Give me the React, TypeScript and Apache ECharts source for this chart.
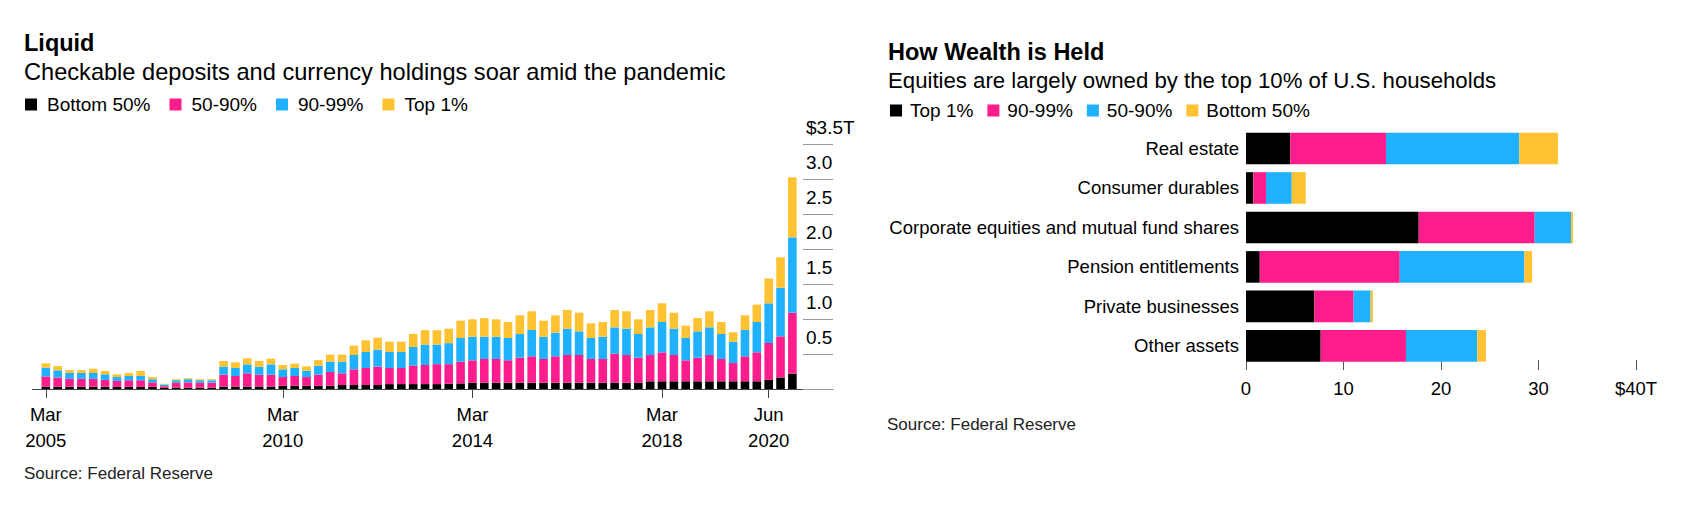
import React, { useEffect, useRef } from "react";
import * as echarts from "echarts";

const FONT = "'Liberation Sans', Arial, Helvetica, sans-serif";
const BLACK = "#000000";
const PINK = "#fe1d8c";
const BLUE = "#1fb1fd";
const YELLOW = "#fec232";

// ---------- Left chart: Liquid ----------
const years = [2005, 2006, 2007, 2008, 2009, 2010, 2011, 2012, 2013, 2014, 2015, 2016, 2017, 2018, 2019, 2020];
const quarterNames = ["Q1", "Q2", "Q3", "Q4"];
const quarters: string[] = [];
years.forEach((y) => quarterNames.forEach((q) => quarters.push(`${y}-${q}`)));

const tickQuarters = ["2005-Q1", "2010-Q1", "2014-Q1", "2018-Q1", "2020-Q2"];
const tickLabels = ["Mar\n2005", "Mar\n2010", "Mar\n2014", "Mar\n2018", "Jun\n2020"];
const yTickLabels = ["", "0.5", "1.0", "1.5", "2.0", "2.5", "3.0", "$3.5T"];

const liqBottom50 = [
  0.033, 0.033, 0.033, 0.033, 0.033, 0.033, 0.03, 0.03, 0.03, 0.03,
  0.015, 0.02, 0.02, 0.02, 0.02,
  0.035, 0.035, 0.035, 0.035, 0.035,
  0.045, 0.045, 0.045, 0.045, 0.045,
  0.057, 0.057, 0.057, 0.057,
  0.07, 0.07, 0.07, 0.07, 0.07, 0.075, 0.08,
  0.09, 0.09, 0.09, 0.09, 0.09, 0.09, 0.09, 0.09, 0.09, 0.09, 0.09, 0.09, 0.09, 0.09, 0.09,
  0.11, 0.11, 0.11, 0.11, 0.11, 0.11, 0.11, 0.11, 0.11, 0.11,
  0.13, 0.165, 0.22,
];
const liq50to90 = [
  0.147, 0.132, 0.112, 0.112, 0.112, 0.097, 0.085, 0.095, 0.095, 0.065,
  0.025, 0.07, 0.075, 0.07, 0.07,
  0.17, 0.151, 0.189, 0.17, 0.17,
  0.126, 0.141, 0.126, 0.16, 0.198,
  0.167, 0.224, 0.243, 0.262,
  0.23, 0.23, 0.265, 0.273, 0.285, 0.28, 0.31,
  0.32, 0.339, 0.339, 0.32, 0.358, 0.377, 0.339, 0.377, 0.396, 0.396, 0.339, 0.339, 0.415, 0.396, 0.358,
  0.376, 0.414, 0.376, 0.3, 0.338, 0.376, 0.319, 0.261, 0.357, 0.414,
  0.527, 0.587, 0.87,
];
const liq90to99 = [
  0.125, 0.102, 0.084, 0.084, 0.084, 0.08, 0.056, 0.061, 0.061, 0.045,
  0.025, 0.035, 0.045, 0.035, 0.035,
  0.114, 0.114, 0.128, 0.114, 0.147,
  0.11, 0.114, 0.091, 0.128, 0.147,
  0.166, 0.205, 0.229, 0.243,
  0.229, 0.229, 0.265, 0.292, 0.28, 0.3, 0.339,
  0.338, 0.319, 0.319, 0.319, 0.338, 0.376, 0.319, 0.338, 0.376, 0.338, 0.3, 0.319, 0.376, 0.376, 0.338,
  0.395, 0.433, 0.376, 0.319, 0.376, 0.395, 0.357, 0.305, 0.376, 0.433,
  0.567, 0.694, 1.077,
];
const liqTop1 = [
  0.062, 0.062, 0.042, 0.042, 0.061, 0.047, 0.039, 0.043, 0.071, 0.031,
  0.01, 0.015, 0.015, 0.015, 0.015,
  0.081, 0.081, 0.086, 0.081, 0.081,
  0.062, 0.062, 0.062, 0.081, 0.1,
  0.1, 0.133, 0.166, 0.171,
  0.147, 0.147, 0.188, 0.205, 0.205, 0.207, 0.247,
  0.247, 0.264, 0.247, 0.228, 0.266, 0.267, 0.228, 0.247, 0.267, 0.266, 0.209, 0.209, 0.248, 0.248, 0.209,
  0.248, 0.267, 0.228, 0.176, 0.19, 0.229, 0.171, 0.134, 0.209, 0.248,
  0.355, 0.435, 0.857,
];
const liqSeriesNames = ["Bottom 50%", "50-90%", "90-99%", "Top 1%"];

// ---------- Right chart: How Wealth is Held ----------
const assetCategories = [
  "Real estate",
  "Consumer durables",
  "Corporate equities and mutual fund shares",
  "Pension entitlements",
  "Private businesses",
  "Other assets",
];
const wTop1 = [4.54, 0.75, 17.71, 1.41, 7.0, 7.66];
const w90to99 = [9.82, 1.3, 11.9, 14.36, 4.04, 8.75];
const w50to90 = [13.67, 2.64, 3.72, 12.78, 1.74, 7.31];
const wBottom50 = [3.97, 1.44, 0.2, 0.79, 0.24, 0.89];
const wealthSeriesNames = ["Top 1%", "90-99%", "50-90%", "Bottom 50%"];
const wealthXLabels = ["0", "10", "20", "30", "$40T"];

const LEFT_W = 880;

function leftOption(): any {
  const tickPos = tickQuarters.map((q) => quarters.indexOf(q));
  const mk = (name: string, data: number[], color: string) => ({
    name,
    type: "bar",
    stack: "total",
    xAxisIndex: 0,
    yAxisIndex: 0,
    barWidth: 8.6,
    itemStyle: { color },
    data,
  });
  const top = 144;
  const bottom = 528 - 389;
  return {
    animation: false,
    textStyle: { fontFamily: FONT },
    title: [
      {
        text: "Liquid",
        left: 24,
        top: 29,
        padding: 0,
        textStyle: { fontFamily: FONT, fontSize: 23.5, fontWeight: "bold", color: "#000", lineHeight: 28 },
      },
      {
        text: "Checkable deposits and currency holdings soar amid the pandemic",
        left: 24,
        top: 58,
        padding: 0,
        textStyle: { fontFamily: FONT, fontSize: 23.6, fontWeight: "normal", color: "#000", lineHeight: 28 },
      },
      {
        text: "Source: Federal Reserve",
        left: 24,
        top: 463,
        padding: 0,
        textStyle: { fontFamily: FONT, fontSize: 17, fontWeight: "normal", color: "#222", lineHeight: 20 },
      },
    ],
    legend: {
      left: 25,
      top: 95,
      padding: 0,
      icon: "rect",
      itemWidth: 12,
      itemHeight: 12,
      itemGap: 19,
      selectedMode: false,
      textStyle: { fontFamily: FONT, fontSize: 19, color: "#000", padding: [0, 0, 0, 5] },
      data: liqSeriesNames,
    },
    grid: [
      // bars
      { left: 39.9, right: LEFT_W - 798.3, top, bottom },
      // baseline frame
      { left: 32.5, right: LEFT_W - 833, top, bottom },
      // right-hand value scale
      { left: 32.5, right: LEFT_W - 803, top, bottom },
    ],
    xAxis: [
      {
        gridIndex: 0,
        type: "category",
        data: quarters,
        boundaryGap: true,
        axisLine: { show: false, onZero: false },
        axisTick: {
          show: true,
          alignWithLabel: true,
          interval: (index: number) => tickPos.indexOf(index) >= 0,
          length: 9,
          lineStyle: { color: "#444" },
        },
        axisLabel: {
          interval: (index: number) => tickPos.indexOf(index) >= 0,
          formatter: (v: string) => {
            const k = tickQuarters.indexOf(v);
            return k >= 0 ? tickLabels[k] : "";
          },
          fontFamily: FONT,
          fontSize: 18.5,
          color: "#000",
          lineHeight: 26,
          margin: 12,
        },
        splitLine: { show: false },
      },
      {
        gridIndex: 1,
        type: "value",
        min: 0,
        max: 1,
        axisLine: { show: true, onZero: false, lineStyle: { color: "#444", width: 1 } },
        axisTick: { show: false },
        axisLabel: { show: false },
        splitLine: { show: false },
      },
      { gridIndex: 2, type: "value", min: 0, max: 1, show: false },
    ],
    yAxis: [
      { gridIndex: 0, type: "value", min: 0, max: 3.5, show: false },
      { gridIndex: 1, type: "value", min: 0, max: 3.5, show: false },
      {
        gridIndex: 2,
        type: "value",
        position: "right",
        min: 0,
        max: 3.5,
        interval: 0.5,
        axisLine: { show: false, onZero: false },
        axisTick: { show: true, inside: false, length: 30, lineStyle: { color: "#999" } },
        axisLabel: {
          formatter: (v: number) => yTickLabels[Math.round(v / 0.5)] ?? "",
          fontFamily: FONT,
          fontSize: 19,
          color: "#000",
          align: "left",
          verticalAlign: "bottom",
          lineHeight: 20,
          padding: [0, 0, 7, 0],
          margin: 3,
        },
        splitLine: { show: false },
      },
    ],
    series: [
      mk(liqSeriesNames[0], liqBottom50, BLACK),
      mk(liqSeriesNames[1], liq50to90, PINK),
      mk(liqSeriesNames[2], liq90to99, BLUE),
      mk(liqSeriesNames[3], liqTop1, YELLOW),
    ],
  };
}

function rightOption(): any {
  const mk = (name: string, data: number[], color: string) => ({
    name,
    type: "bar",
    stack: "total",
    barWidth: 31.6,
    itemStyle: { color },
    data,
  });
  return {
    animation: false,
    textStyle: { fontFamily: FONT },
    title: [
      {
        text: "How Wealth is Held",
        left: 40,
        top: 38,
        padding: 0,
        textStyle: { fontFamily: FONT, fontSize: 23.5, fontWeight: "bold", color: "#000", lineHeight: 28 },
      },
      {
        text: "Equities are largely owned by the top 10% of U.S. households",
        left: 40,
        top: 66,
        padding: 0,
        textStyle: { fontFamily: FONT, fontSize: 22.2, fontWeight: "normal", color: "#000", lineHeight: 28 },
      },
      {
        text: "Source: Federal Reserve",
        left: 39,
        top: 414,
        padding: 0,
        textStyle: { fontFamily: FONT, fontSize: 17, fontWeight: "normal", color: "#222", lineHeight: 20 },
      },
    ],
    legend: {
      left: 42,
      top: 101,
      padding: 0,
      icon: "rect",
      itemWidth: 12,
      itemHeight: 12,
      itemGap: 14,
      selectedMode: false,
      textStyle: { fontFamily: FONT, fontSize: 19, color: "#000", padding: [0, 0, 0, 3] },
      data: wealthSeriesNames,
    },
    grid: { left: 398, right: 60, top: 128.75, bottom: 162.4, containLabel: false },
    xAxis: {
      type: "value",
      min: 0,
      max: 40,
      interval: 10,
      offset: 4.4,
      axisLine: { show: false, onZero: false },
      axisTick: { show: true, inside: true, length: 10, lineStyle: { color: "#555" } },
      axisLabel: {
        formatter: (v: number) => wealthXLabels[Math.round(v / 10)] ?? "",
        fontFamily: FONT,
        fontSize: 18.5,
        color: "#000",
        margin: 9,
      },
      splitLine: { show: false },
    },
    yAxis: {
      type: "category",
      inverse: true,
      data: assetCategories,
      axisLine: { show: false, onZero: false },
      axisTick: { show: false },
      axisLabel: { fontFamily: FONT, fontSize: 18.5, color: "#000", margin: 7 },
    },
    series: [
      mk(wealthSeriesNames[0], wTop1, BLACK),
      mk(wealthSeriesNames[1], w90to99, PINK),
      mk(wealthSeriesNames[2], w50to90, BLUE),
      mk(wealthSeriesNames[3], wBottom50, YELLOW),
    ],
  };
}

export default function App() {
  const leftRef = useRef<HTMLDivElement>(null);
  const rightRef = useRef<HTMLDivElement>(null);
  useEffect(() => {
    const l = echarts.init(leftRef.current as HTMLDivElement, null, { renderer: "svg" });
    l.setOption(leftOption());
    const r = echarts.init(rightRef.current as HTMLDivElement, null, { renderer: "svg" });
    r.setOption(rightOption());
    return () => {
      l.dispose();
      r.dispose();
    };
  }, []);
  return (
    <div style={{ position: "fixed", left: 0, top: 0, width: 1696, height: 528, background: "#fff" }}>
      <div ref={leftRef} style={{ position: "absolute", left: 0, top: 0, width: LEFT_W, height: 528 }} />
      <div ref={rightRef} style={{ position: "absolute", left: 848, top: 0, width: 848, height: 528 }} />
    </div>
  );
}
